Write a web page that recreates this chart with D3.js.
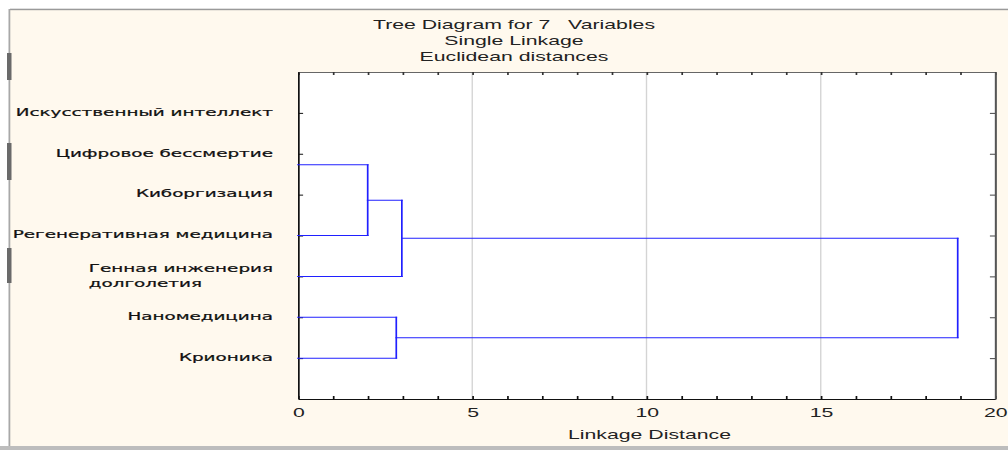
<!DOCTYPE html>
<html>
<head>
<meta charset="utf-8">
<script src="https://cdn.jsdelivr.net/npm/d3@7"></script>
<style>
  html, body { margin: 0; padding: 0; background: #ffffff; }
  svg { display: block; }
</style>
</head>
<body>
<svg id="chart" width="1008" height="450"></svg>
<script>
// ---------------- data ----------------
const titleLines = ["Tree Diagram for 7   Variables", "Single Linkage", "Euclidean distances"];
const xAxisTitle = "Linkage Distance";
const variableLabels = [
  "Искусственный интеллект",
  "Цифровое бессмертие",
  "Киборгизация",
  "Регенеративная медицина",
  "Генная инженерия\nдолголетия",
  "Наномедицина",
  "Крионика"
];
const xTickLabels = [0, 5, 10, 15, 20];
const xDomain = [0, 20];
// leaves of the tree and the row (on the variable axis) where each leaf line is drawn
const leafNames = ["Цифровое бессмертие", "Регенеративная медицина", "Генная инженерия долголетия", "Наномедицина", "Крионика"];
const leafRow = [1.27, 3, 4, 5, 6];
// merges: node ids 0..4 are leaves, merge k creates node 5+k
const mergeA = [0, 5, 3, 6];
const mergeB = [1, 2, 4, 7];
const mergeDist = [2.0, 2.98, 2.82, 18.93];

// ---------------- layout ----------------
(function () {
const SX = 1.7; // horizontal stretch of the original picture
const W = 1008, H = 450;
const plotL = 298, plotR = 995, plotT = 72, plotB = 399;

const svg = d3.select("#chart");

// outer frame
svg.append("rect").attr("x", 0).attr("y", 0).attr("width", W).attr("height", H).attr("fill", "#ffffff");
svg.append("rect").attr("x", 10).attr("y", 10).attr("width", W - 10).attr("height", 436).attr("fill", "#fff9ee");
svg.append("rect").attr("x", 10).attr("y", 8.7).attr("width", W - 10).attr("height", 1.5).attr("fill", "#9a9a9a");
svg.append("rect").attr("x", 8.5).attr("y", 9).attr("width", 1.8).attr("height", 437).attr("fill", "#a8a8a8");
[[53, 80], [143, 180], [248, 283]].forEach(s => {
  svg.append("rect").attr("x", 7).attr("y", s[0]).attr("width", 4.5).attr("height", s[1] - s[0]).attr("fill", "#6a6a6a");
});
svg.append("rect").attr("x", 0).attr("y", 446).attr("width", W).attr("height", 4).attr("fill", "#bdbdbd");

// stretched drawing group
const g = svg.append("g").attr("transform", `scale(${SX},1)`);

const x = d3.scaleLinear().domain(xDomain).range([plotL / SX, plotR / SX]);
const rows = d3.range(variableLabels.length);
const y = d3.scaleLinear().domain([-1, variableLabels.length]).range([plotT, plotB]);

// plot background
g.append("rect")
  .attr("x", x(xDomain[0])).attr("y", plotT)
  .attr("width", x(xDomain[1]) - x(xDomain[0])).attr("height", plotB - plotT)
  .attr("fill", "#ffffff");

// grid
g.append("g").selectAll("line").data(xTickLabels.filter(v => v > xDomain[0] && v < xDomain[1]))
  .join("line")
  .attr("x1", d => x(d)).attr("x2", d => x(d))
  .attr("y1", plotT).attr("y2", plotB)
  .attr("stroke", "#d4d4d4").attr("stroke-width", 0.8);

// axes
const allTicks = d3.range(xDomain[0], xDomain[1] + 1);
const axB = g.append("g").attr("transform", `translate(0,${plotB})`)
  .call(d3.axisBottom(x).tickValues(allTicks).tickSizeInner(-3).tickSizeOuter(0).tickPadding(9)
    .tickFormat(d => xTickLabels.includes(d) ? d : ""));
const axT = g.append("g").attr("transform", `translate(0,${plotT})`)
  .call(d3.axisTop(x).tickValues(allTicks).tickSizeInner(-3).tickSizeOuter(0).tickFormat(""));
const axL = g.append("g").attr("transform", `translate(${x(xDomain[0])},0)`)
  .call(d3.axisLeft(y).tickValues(rows).tickSizeInner(-3).tickSizeOuter(0).tickFormat(""));
const axR = g.append("g").attr("transform", `translate(${x(xDomain[1])},0)`)
  .call(d3.axisRight(y).tickValues(rows).tickSizeInner(-3).tickSizeOuter(0).tickFormat(""));

[axB, axL].forEach(a => a.selectAll("path, line").attr("stroke", "#111"));
axT.selectAll("path").attr("stroke", "#666").attr("stroke-width", 0.8);
axT.selectAll("line").attr("stroke", "#333");
axR.selectAll("path").attr("stroke", "#555").attr("stroke-width", 1.2);
axR.selectAll("line").attr("stroke", "#444");
axB.selectAll("text")
  .attr("font-family", "'Liberation Sans', Arial, sans-serif")
  .attr("font-size", 12.5).attr("fill", "#222");

// dendrogram
const nodeX = [], nodeY = [];
leafNames.forEach((n, i) => { nodeX.push(0); nodeY.push(y(leafRow[i])); });
mergeDist.forEach((d, k) => {
  nodeX.push(d);
  nodeY.push((nodeY[mergeA[k]] + nodeY[mergeB[k]]) / 2);
});
const segs = [];
mergeDist.forEach((d, k) => {
  const a = mergeA[k], b = mergeB[k];
  segs.push([nodeX[a], nodeY[a], d, nodeY[a]]);
  segs.push([nodeX[b], nodeY[b], d, nodeY[b]]);
  segs.push([d, nodeY[a], d, nodeY[b]]);
});
g.append("g").selectAll("line").data(segs).join("line")
  .attr("x1", s => x(s[0])).attr("y1", s => s[1])
  .attr("x2", s => x(s[2])).attr("y2", s => s[3])
  .attr("stroke", "#2020ff").attr("stroke-width", 1)
  .attr("stroke-linecap", "square");

// variable labels
const labelRight = 273 / SX;
const lg = g.append("g").attr("font-family", "'DejaVu Sans', Verdana, sans-serif")
  .attr("font-size", 10.8).attr("fill", "#111").attr("stroke", "#111").attr("stroke-width", 0.22);
variableLabels.forEach((lab, i) => {
  const lines = lab.split("\n");
  const lh = 15;
  const y0 = y(i) - 1 - (lines.length - 1) * lh / 2;
  const texts = lines.map((ln, j) => lg.append("text")
    .attr("y", y0 + j * lh).attr("dy", "0.35em").text(ln));
  if (lines.length === 1) {
    texts[0].attr("x", labelRight).attr("text-anchor", "end");
  } else {
    const mw = d3.max(texts, t => t.node().getComputedTextLength());
    texts.forEach(t => t.attr("x", labelRight - mw).attr("text-anchor", "start"));
  }
});

// titles
const tg = g.append("g").attr("font-family", "'Liberation Sans', Arial, sans-serif")
  .attr("font-size", 12.5).attr("fill", "#222").attr("text-anchor", "middle");
titleLines.forEach((t, i) => {
  tg.append("text").attr("x", 514 / SX).attr("y", 29 + i * 16).style("white-space", "pre").text(t);
});
tg.append("text").attr("x", (x(xDomain[0]) + x(xDomain[1])) / 2 + 3 / SX).attr("y", 439).text(xAxisTitle);
})();
</script>
</body>
</html>
